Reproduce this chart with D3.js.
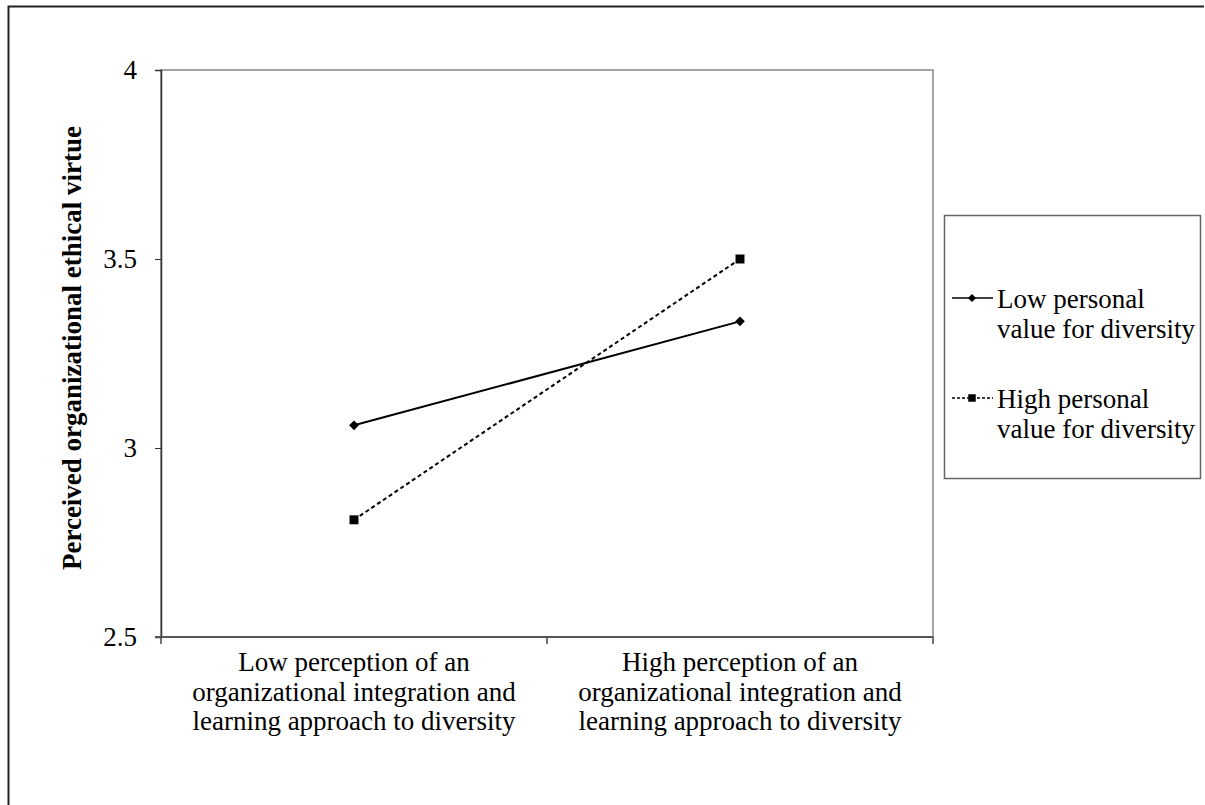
<!DOCTYPE html>
<html>
<head>
<meta charset="utf-8">
<script src="https://cdn.jsdelivr.net/npm/d3@7"></script>
<style>
  body { margin: 0; background: #fff; }
  svg text { font-family: "Liberation Serif", "Times New Roman", serif; }
</style>
</head>
<body>
<svg id="chart" width="1205" height="805"></svg>
<script>
// data
const categories = [
    ["Low perception of an", "organizational integration and", "learning approach to diversity"],
    ["High perception of an", "organizational integration and", "learning approach to diversity"]
];
const seriesNames = [
    ["Low personal", "value for diversity"],
    ["High personal", "value for diversity"]
];
const lowValueSeries = [3.06, 3.335];
const highValueSeries = [2.81, 3.5];
const yTicks = [2.5, 3, 3.5, 4];

const FONT = '"Liberation Serif", "Times New Roman", serif';

const series = [
    {name: seriesNames[0], values: lowValueSeries, dash: null, symbol: d3.symbolDiamond2, size: 60},
    {name: seriesNames[1], values: highValueSeries, dash: "4,3", symbol: d3.symbolSquare, size: 80}
];

const svg = d3.select('#chart');

// outer frame (only top and left edges visible)
svg.append('path')
    .attr('d', 'M8.5,806 V6.5 H1204')
    .attr('fill', 'none')
    .attr('stroke', '#222')
    .attr('stroke-width', 2);

const plot = {left: 161, right: 933, top: 70, bottom: 637};

const x = d3.scaleBand()
    .domain(d3.range(categories.length))
    .range([plot.left, plot.right]);
const y = d3.scaleLinear()
    .domain([2.5, 4])
    .range([plot.bottom, plot.top]);

// plot area border (grey)
svg.append('rect')
    .attr('x', plot.left).attr('y', plot.top)
    .attr('width', plot.right - plot.left)
    .attr('height', plot.bottom - plot.top)
    .attr('fill', 'none')
    .attr('stroke', '#888')
    .attr('stroke-width', 1.5);

// y axis
const yAxis = svg.append('g')
    .attr('transform', `translate(${plot.left},0)`)
    .call(d3.axisLeft(y).tickValues(yTicks).tickSize(6).tickPadding(18)
        .tickFormat(d3.format('')));
yAxis.attr('font-family', FONT).attr('font-size', 27);
yAxis.select('.domain').attr('stroke', '#333').attr('stroke-width', 1.5);
yAxis.selectAll('.tick line').attr('stroke', '#333');
yAxis.selectAll('.tick text')
    .attr('font-size', 27)
    .attr('font-family', FONT)
    .attr('fill', '#000');

// x axis: ticks at band boundaries
const xb = svg.append('g')
    .attr('transform', `translate(0,${plot.bottom})`);
xb.append('line')
    .attr('x1', plot.left - 6).attr('x2', plot.right)
    .attr('stroke', '#555').attr('stroke-width', 2);
xb.selectAll('line.tk')
    .data(d3.range(categories.length + 1))
    .join('line')
    .attr('class', 'tk')
    .attr('x1', i => plot.left + i * x.bandwidth())
    .attr('x2', i => plot.left + i * x.bandwidth())
    .attr('y1', 0).attr('y2', 7)
    .attr('stroke', '#444').attr('stroke-width', 1.5);

xb.selectAll('text.cat')
    .data(categories)
    .join('text')
    .attr('class', 'cat')
    .attr('text-anchor', 'middle')
    .attr('font-family', FONT)
    .attr('font-size', 27)
    .attr('fill', '#000')
    .each(function(lines, i) {
        d3.select(this).selectAll('tspan')
            .data(lines)
            .join('tspan')
            .attr('x', x(i) + x.bandwidth() / 2)
            .attr('y', (l, j) => 34 + j * 29.5)
            .text(l => l);
    });

// y axis label
svg.append('text')
    .attr('transform', `translate(81,348) rotate(-90)`)
    .attr('text-anchor', 'middle')
    .attr('font-family', FONT)
    .attr('font-size', 27)
    .attr('font-weight', 'bold')
    .attr('fill', '#000')
    .text('Perceived organizational  ethical virtue');

// lines
const line = d3.line()
    .x((d, i) => x(i) + x.bandwidth() / 2)
    .y(d => y(d));

const sg = svg.selectAll('g.series')
    .data(series)
    .join('g')
    .attr('class', 'series');

sg.append('path')
    .attr('d', s => line(s.values))
    .attr('fill', 'none')
    .attr('stroke', '#000')
    .attr('stroke-width', 2)
    .attr('stroke-dasharray', s => s.dash);

sg.selectAll('path.pt')
    .data(s => s.values.map((v, i) => ({v, i, s})))
    .join('path')
    .attr('class', 'pt')
    .attr('transform', d => `translate(${x(d.i) + x.bandwidth() / 2},${y(d.v)})`)
    .attr('d', d => d3.symbol(d.s.symbol, d.s.size)())
    .attr('fill', '#000');

// legend
const legend = svg.append('g');
legend.append('rect')
    .attr('x', 944.5).attr('y', 215.5)
    .attr('width', 256).attr('height', 263)
    .attr('fill', '#fff')
    .attr('stroke', '#666')
    .attr('stroke-width', 1.5);

const li = legend.selectAll('g.item')
    .data(series)
    .join('g')
    .attr('class', 'item')
    .attr('transform', (s, i) => `translate(0,${i * 100})`);

li.append('line')
    .attr('x1', 952).attr('x2', 993)
    .attr('y1', 298).attr('y2', 298)
    .attr('stroke', '#000')
    .attr('stroke-width', 1.5)
    .attr('stroke-dasharray', s => s.dash ? '3,2' : null);
li.append('path')
    .attr('transform', 'translate(972,298)')
    .attr('d', s => d3.symbol(s.symbol, s.size * 0.7)())
    .attr('fill', '#000');
li.append('text')
    .attr('font-family', FONT)
    .attr('font-size', 27)
    .attr('fill', '#000')
    .each(function(s) {
        d3.select(this).selectAll('tspan')
            .data(s.name)
            .join('tspan')
            .attr('x', 997)
            .attr('y', (l, j) => 308 + j * 30)
            .text(l => l);
    });
</script>
</body>
</html>
